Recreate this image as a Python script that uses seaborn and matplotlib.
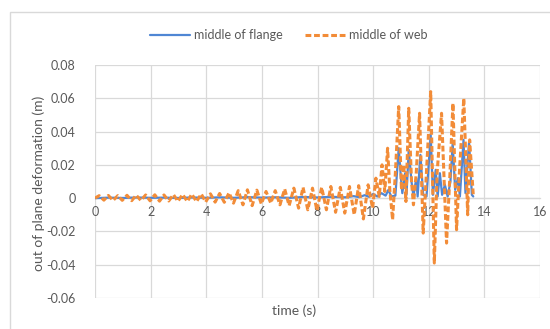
import matplotlib
matplotlib.use("Agg")
import matplotlib.pyplot as plt
import seaborn as sns
import pandas as pd
from matplotlib.patches import Rectangle

# middle of flange: out-of-plane deformation (m) vs time (s)
flange_t = [0.00, 0.50, 1.00, 1.50, 2.00, 2.50, 3.00, 3.50, 4.00, 4.50, 5.00, 5.50,
            6.00, 6.50, 7.00, 7.50, 8.00, 8.50, 9.00, 9.30, 9.50, 9.70, 9.85, 10.00,
            10.15, 10.30, 10.45, 10.55, 10.65, 10.80, 10.92, 11.00, 11.05, 11.15,
            11.20, 11.28, 11.38, 11.45, 11.55, 11.60, 11.70, 11.80, 11.92, 12.07,
            12.15, 12.25, 12.32, 12.40, 12.48, 12.58, 12.68, 12.78, 12.86, 12.95,
            13.05, 13.12, 13.25, 13.32, 13.45, 13.55, 13.60]
flange_v = [0.0000, 0.0003, 0.0001, 0.0004, 0.0002, 0.0003, 0.0001, 0.0004, 0.0002,
            0.0005, 0.0002, 0.0006, 0.0003, 0.0005, 0.0002, 0.0007, 0.0004, 0.0008,
            0.0005, 0.0012, 0.0006, 0.0018, 0.0008, 0.0025, 0.0010, 0.0030, 0.0015,
            0.0050, 0.0010, 0.0015, 0.0300, 0.0120, 0.0030, 0.0150, 0.0020, 0.0290,
            0.0100, 0.0010, 0.0120, 0.0010, 0.0260, 0.0020, 0.0010, 0.0380, 0.0020,
            0.0170, 0.0010, 0.0150, 0.0020, 0.0080, 0.0010, 0.0100, 0.0330, 0.0050,
            0.0120, 0.0010, 0.0350, 0.0030, 0.0340, 0.0020, 0.0010]

# middle of web: out-of-plane deformation (m) vs time (s)
web_t = [0.00, 0.15, 0.32, 0.48, 0.65, 0.82, 0.98, 1.15, 1.32, 1.48, 1.65, 1.82,
         1.98, 2.15, 2.32, 2.48, 2.65, 2.82, 2.98, 3.15, 3.32, 3.48, 3.65, 3.82,
         3.98, 4.15, 4.32, 4.48, 4.65, 4.82, 4.98, 5.15, 5.32, 5.48, 5.65, 5.82,
         5.98, 6.15, 6.32, 6.48, 6.65, 6.82, 6.98, 7.15, 7.32, 7.48, 7.65, 7.82,
         7.98, 8.15, 8.32, 8.48, 8.65, 8.82, 8.98, 9.15, 9.32, 9.48, 9.65, 9.82,
         9.98, 10.10, 10.22, 10.32, 10.42, 10.52, 10.60, 10.70, 10.80, 10.92,
         11.02, 11.10, 11.18, 11.28, 11.38, 11.45, 11.55, 11.67, 11.80, 11.90,
         12.07, 12.20, 12.30, 12.46, 12.64, 12.75, 12.87, 13.00, 13.10, 13.26,
         13.40, 13.47, 13.60]
web_v = [0.0000, 0.0015, -0.0012, 0.0016, -0.0014, 0.0015, -0.0013, 0.0017, -0.0015,
         0.0018, -0.0014, 0.0019, -0.0016, 0.0020, -0.0018, 0.0019, -0.0017, 0.0021,
         -0.0019, 0.0022, -0.0020, 0.0024, -0.0021, 0.0025, -0.0023, 0.0026, -0.0024,
         0.0028, -0.0025, 0.0032, -0.0030, 0.0045, -0.0040, 0.0050, -0.0045, 0.0048,
         -0.0035, 0.0040, -0.0030, 0.0045, -0.0040, 0.0055, -0.0045, 0.0060, -0.0060,
         0.0065, -0.0070, 0.0060, -0.0075, 0.0065, -0.0070, 0.0070, -0.0085, 0.0065,
         -0.0090, 0.0070, -0.0100, 0.0075, -0.0125, 0.0080, -0.0060, 0.0120, 0.0010,
         0.0200, 0.0040, 0.0300, 0.0050, -0.0130, 0.0150, 0.0550, 0.0050, 0.0200,
         -0.0020, 0.0540, 0.0100, -0.0040, 0.0150, 0.0510, -0.0210, 0.0100, 0.0640,
         -0.0390, 0.0150, 0.0510, -0.0270, 0.0100, 0.0570, -0.0190, 0.0150, 0.0600,
         -0.0100, 0.0350, 0.0020]

x_ticks = [0, 2, 4, 6, 8, 10, 12, 14, 16]
y_ticks = [-0.06, -0.04, -0.02, 0, 0.02, 0.04, 0.06, 0.08]
y_tick_labels = ["-0.06", "-0.04", "-0.02", "0", "0.02", "0.04", "0.06", "0.08"]

sns.set_theme(style="white")
plt.rcParams["font.family"] = ["Lato", "DejaVu Sans"]

TEXT = "#595959"
GRID = "#d9d9d9"
BLUE = "#4f86d4"
ORANGE = "#f28c38"

fig = plt.figure(figsize=(5.5, 3.29), dpi=100)
fig.patches.append(Rectangle((10 / 550, -0.05), 1.2, 0.05 + 1 - 12 / 329,
                             transform=fig.transFigure, fill=False,
                             edgecolor=GRID, linewidth=1.0))
ax = fig.add_axes([95 / 550, 1 - 298 / 329, 445 / 550, 233 / 329])

flange = pd.DataFrame({"t": flange_t, "v": flange_v})
web = pd.DataFrame({"t": web_t, "v": web_v})

sns.lineplot(data=flange, x="t", y="v", ax=ax, color=BLUE, linewidth=1.6,
             label="middle of flange", zorder=3)
sns.lineplot(data=web, x="t", y="v", ax=ax, color=ORANGE, linewidth=2.2,
             dashes=False, label="middle of web", zorder=4)
ax.lines[1].set_dashes((1.9, 0.9))

ax.set_xlim(0, 16)
ax.set_ylim(-0.06, 0.08)
ax.set_xticks(x_ticks)
ax.set_xticklabels([str(v) for v in x_ticks])
ax.set_yticks(y_ticks)
ax.set_yticklabels(y_tick_labels)
ax.grid(True, color=GRID, linewidth=0.9)
ax.set_axisbelow(True)

for name in ("top", "right", "left"):
    ax.spines[name].set_visible(False)
ax.spines["bottom"].set_position(("data", 0))
ax.spines["bottom"].set_color(GRID)
ax.spines["bottom"].set_linewidth(0.9)

ax.tick_params(axis="both", length=0, labelsize=9, colors=TEXT)
ax.tick_params(axis="y", pad=14)
ax.tick_params(axis="x", pad=6)

ax.set_xlabel("")
ax.set_ylabel("")
fig.text(294 / 550, 1 - 311 / 329, "time (s)", ha="center", va="center",
         fontsize=10, color=TEXT)
fig.text(39 / 550, 1 - 183 / 329, "out of plane deformation (m)", ha="center",
         va="center", rotation=90, fontsize=10, color=TEXT)

ax.legend_.remove()
handles, labels = ax.get_legend_handles_labels()
leg = fig.legend(handles, labels, loc="center", ncol=2, frameon=False,
                 bbox_to_anchor=(289 / 550, 1 - 35 / 329), fontsize=9,
                 handlelength=3.2, handletextpad=0.3, columnspacing=1.8)
for txt in leg.get_texts():
    txt.set_color(TEXT)

fig.savefig("out.png", dpi=100)
